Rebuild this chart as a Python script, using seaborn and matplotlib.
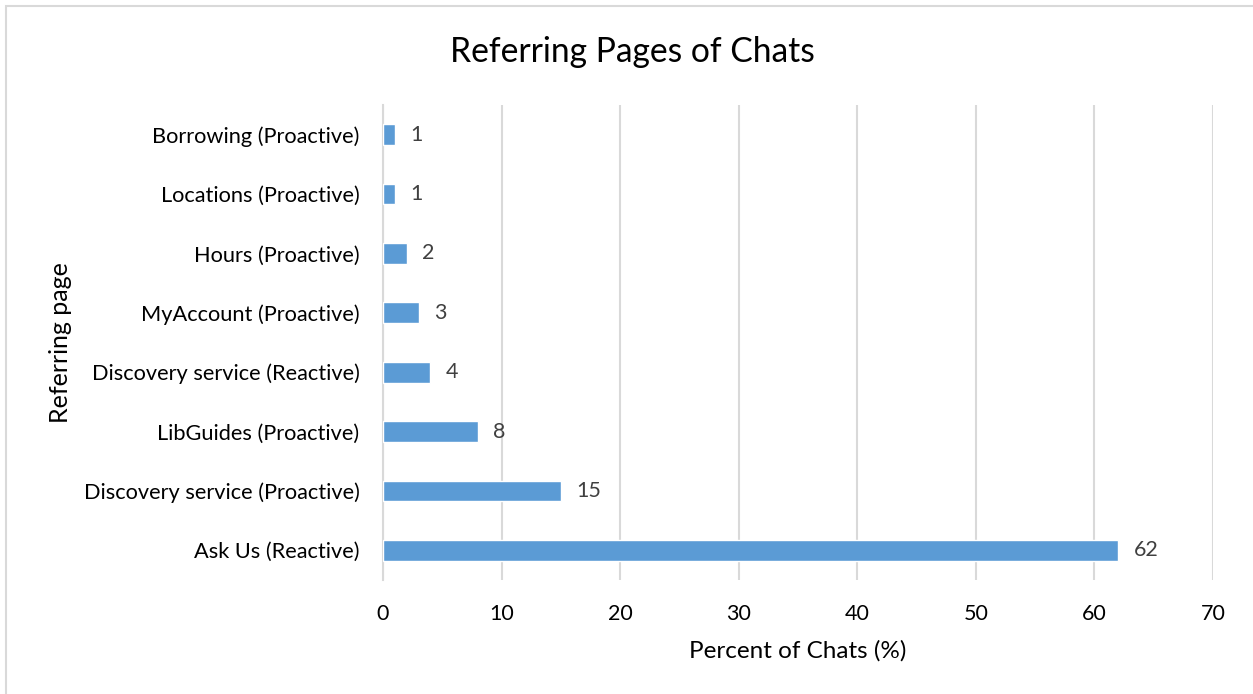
import matplotlib
matplotlib.use("Agg")
import matplotlib.pyplot as plt
import seaborn as sns
import pandas as pd
from matplotlib.patches import Rectangle

categories = ["Borrowing (Proactive)", "Locations (Proactive)", "Hours (Proactive)",
              "MyAccount (Proactive)", "Discovery service (Reactive)", "LibGuides (Proactive)",
              "Discovery service (Proactive)", "Ask Us (Reactive)"]
values = [1, 1, 2, 3, 4, 8, 15, 62]
xticks = [0, 10, 20, 30, 40, 50, 60, 70]

sns.set_theme(style="white")
plt.rcParams['font.family'] = ['Lato', 'DejaVu Sans']

df = pd.DataFrame({"page": categories, "pct": values})

fig = plt.figure(figsize=(12.53, 6.94), dpi=100)
ax = fig.add_axes([0.3057, 0.1643, 0.968 - 0.3057, 0.8487 - 0.1643])

sns.barplot(data=df, y="page", x="pct", orient="h", color="#5B9BD5",
            saturation=1, width=0.35, ax=ax, zorder=3)

ax.set_xlim(0, 70)
ax.set_xticks(xticks)
ax.set_xticklabels([str(t) for t in xticks], fontsize=15.5, color="black")
ax.tick_params(axis='y', labelsize=15.7, labelcolor="black", length=0, pad=17)
ax.tick_params(axis='x', length=0, pad=17)
ax.grid(axis='x', color="#D9D9D9", linewidth=1.5, zorder=0)
ax.grid(axis='y', visible=False)
for s in ["top", "right", "bottom"]:
    ax.spines[s].set_visible(False)
ax.spines["left"].set_color("#D9D9D9")
ax.spines["left"].set_linewidth(1.5)

for i, v in enumerate(values):
    ax.text(v + 1.3, i, str(v), va="center", ha="left", fontsize=15.5, color="#404040")

ax.set_xlabel("Percent of Chats (%)", fontsize=17.5, color="black", labelpad=12)
ax.set_ylabel("")
fig.text(60 / 1253, 0.5 * (0.8487 + 0.1643), "Referring page", rotation=90,
         ha="center", va="center", fontsize=18, color="black")

fig.text(0.505, 0.925, "Referring Pages of Chats", ha="center", va="center",
         fontsize=24.2, color="black")

fig.patches.append(Rectangle((6 / 1253, -0.1), 1.2, 1 - 6 / 694 + 0.1,
                             transform=fig.transFigure, fill=False,
                             edgecolor="#D9D9D9", linewidth=1.5))

fig.savefig("out.png", dpi=100)
